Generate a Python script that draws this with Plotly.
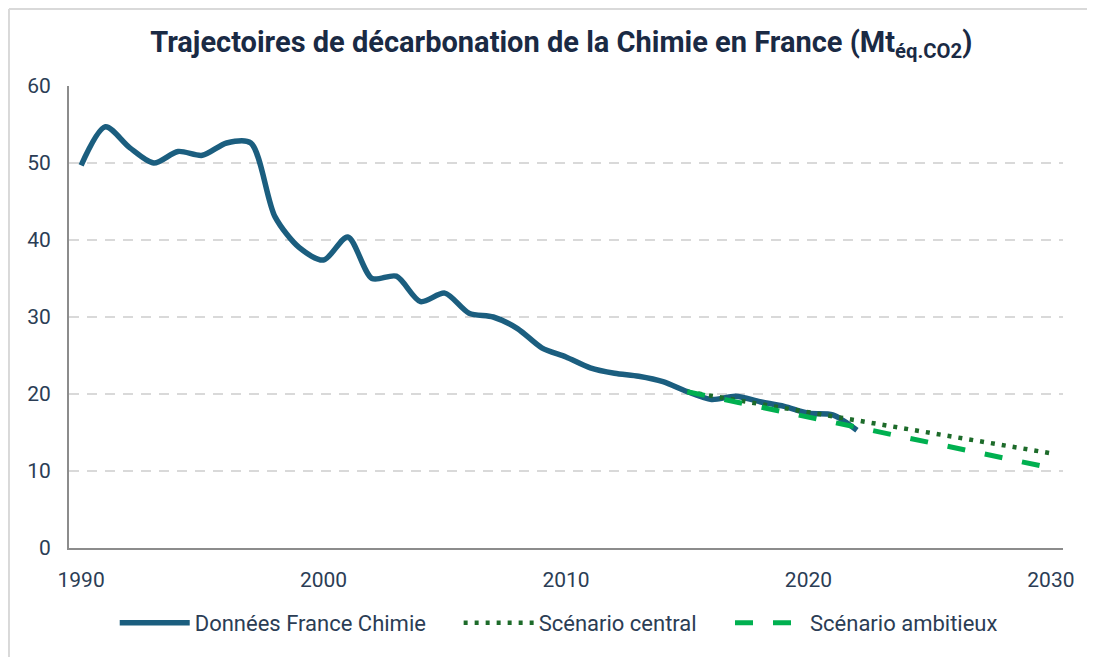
import plotly.graph_objects as go

# Données
annees = list(range(1990, 2023))
donnees_chimie = [49.7, 54.7, 52.0, 50.0, 51.5, 51.0, 52.6, 52.6, 43.0, 39.0,
                  37.4, 40.4, 35.0, 35.3, 32.0, 33.1, 30.5, 30.0, 28.5, 26.0,
                  24.8, 23.4, 22.7, 22.3, 21.6, 20.3, 19.3, 19.7, 19.0, 18.4,
                  17.5, 17.3, 15.3]

annees_scenarios = [2015, 2022, 2030]
scenario_central = [20.3, 16.5, 12.3]
scenario_ambitieux = [20.3, 15.7, 10.4]

couleur_texte = "#2b3d55"
police = "Roboto"

fig = go.Figure()

fig.add_trace(go.Scatter(
    x=annees, y=donnees_chimie,
    mode="lines", name="Données France Chimie", legend="legend",
    line=dict(color="#1b5e7f", width=5.5, shape="spline", smoothing=0.8),
))
fig.add_trace(go.Scatter(
    x=annees_scenarios, y=scenario_central,
    mode="lines", name="Scénario central", legend="legend2",
    line=dict(color="#1d6b2a", width=4.5, dash="4px,7px"),
))
fig.add_trace(go.Scatter(
    x=annees_scenarios, y=scenario_ambitieux,
    mode="lines", name="Scénario ambitieux", legend="legend3",
    line=dict(color="#00b050", width=5, dash="18px,20px"),
))

# cadre gris clair du graphique (bords gauche et haut)
fig.add_shape(type="line", xref="paper", yref="paper",
              x0=-0.0604, x1=-0.0604, y0=-0.3, y1=1.1667,
              line=dict(color="#d9d9d9", width=2))
fig.add_shape(type="line", xref="paper", yref="paper",
              x0=-0.0604, x1=1.1, y0=1.1667, y1=1.1667,
              line=dict(color="#d9d9d9", width=2))

legende = dict(orientation="h", yanchor="middle", y=-0.162, xanchor="left",
               font=dict(size=22, color=couleur_texte), itemwidth=70,
               bgcolor="rgba(0,0,0,0)")

fig.update_layout(
    width=1087, height=649,
    margin=dict(l=61, r=32, t=78, b=109),
    paper_bgcolor="white", plot_bgcolor="white",
    font=dict(family=police, color=couleur_texte, size=21),
    title=dict(
        text="<b>Trajectoires de décarbonation de la Chimie en France (Mt<sub>éq.CO2</sub>)</b>",
        x=0.509, xref="container", xanchor="center", y=0.9476, yanchor="middle",
        font=dict(family=police, size=29, color="#1a2a44"),
    ),
    showlegend=True,
    legend=dict(legende, x=0.046),
    legend2=dict(legende, x=0.392),
    legend3=dict(legende, x=0.665),
    xaxis=dict(
        range=[1989.5, 2030.5], tickvals=[1990, 2000, 2010, 2020, 2030],
        showgrid=False, zeroline=False,
        showline=True, linecolor="#8c8c8c", linewidth=2,
        ticks="outside", ticklen=12, tickcolor="rgba(0,0,0,0)",
        tickfont=dict(size=21, color=couleur_texte),
    ),
    yaxis=dict(
        range=[0, 60], dtick=10,
        showgrid=True, gridcolor="#d9d9d9", gridwidth=2, griddash="10px,8px",
        zeroline=False,
        showline=True, linecolor="#8c8c8c", linewidth=2,
        ticks="outside", ticklen=12, tickcolor="rgba(0,0,0,0)",
        tickfont=dict(size=21, color=couleur_texte),
    ),
)

fig.write_html("out.html")
